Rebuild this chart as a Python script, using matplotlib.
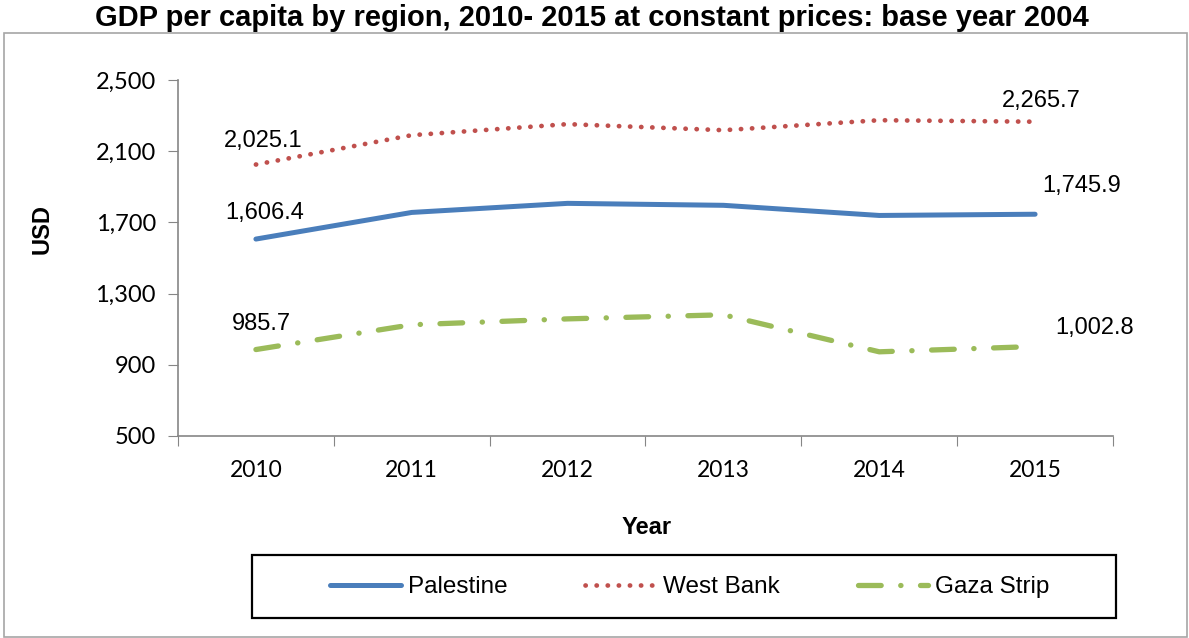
import matplotlib
matplotlib.use('Agg')
import matplotlib.pyplot as plt
from matplotlib.patches import Rectangle

plt.rcParams['font.family'] = ['Liberation Sans', 'DejaVu Sans']

years = ['2010', '2011', '2012', '2013', '2014', '2015']
palestine = [1606.4, 1756, 1807, 1796, 1739, 1745.9]
west_bank = [2025.1, 2190, 2252, 2218, 2274, 2265.7]
gaza = [985.7, 1125, 1158, 1181, 973, 1002.8]

W, H = 1189, 638
fig = plt.figure(figsize=(W / 100, H / 100), dpi=100)

# outer chart border
fig.patches.append(Rectangle((4 / W, 1 - 637 / H), 1183 / W, 604 / H,
                             transform=fig.transFigure, fill=False,
                             edgecolor='#a6a6a6', linewidth=1.2))
# legend box
fig.patches.append(Rectangle((252 / W, 1 - 618 / H), (1116 - 252) / W, 63 / H,
                             transform=fig.transFigure, fill=False,
                             edgecolor='black', linewidth=1.6))

ax = fig.add_axes([178 / W, 1 - 436 / H, (1113 - 178) / W, (436 - 80) / H])
x = list(range(len(years)))

l1, = ax.plot(x, palestine, color='#4a7ebb', linewidth=3.6,
              solid_capstyle='round', solid_joinstyle='round', label='Palestine')
l2, = ax.plot(x, west_bank, color='#c0504d', linewidth=3.4,
              linestyle=(0, (0.05, 2.3)), dash_capstyle='round', label='West Bank')
l3, = ax.plot(x, gaza, color='#9bbb59', linewidth=3.8,
              linestyle=(0, (4.3, 3.7, 0.05, 3.7)), dash_capstyle='round',
              label='Gaza Strip')

ax.set_xlim(-0.5, 5.5)
ax.set_ylim(500, 2500)
ax.set_yticks([500, 900, 1300, 1700, 2100, 2500])
ax.set_yticklabels(['500', '900', '1,300', '1,700', '2,100', '2,500'])
ax.set_xticks([i - 0.5 for i in range(len(years) + 1)])
ax.set_xticklabels([])
ax.set_xticks(x, minor=True)
ax.set_xticklabels(years, minor=True)
ax.tick_params(axis='x', which='minor', length=0, pad=17, labelsize=16.5)
ax.tick_params(axis='x', which='major', length=7, color='#868686', direction='out')
ax.tick_params(axis='y', length=7, color='#868686', direction='out', labelsize=17, pad=9)
for lab in ax.get_xticklabels(minor=True) + ax.get_yticklabels():
    lab.set_family(['Lato', 'DejaVu Sans'])

for s in ['top', 'right']:
    ax.spines[s].set_visible(False)
for s in ['left', 'bottom']:
    ax.spines[s].set_color('#868686')
    ax.spines[s].set_linewidth(1.2)

# data labels at first and last points
def lab(xi, yi, text, dx, dy):
    ax.annotate(text, (xi, yi), xytext=(dx, dy), textcoords='offset pixels',
                ha='center', va='center', fontsize=17)

lab(0, west_bank[0], '2,025.1', 7, 24)
lab(0, palestine[0], '1,606.4', 9, 26)
lab(0, gaza[0], '985.7', 6, 26)
lab(5, west_bank[5], '2,265.7', 6, 21)
lab(5, palestine[5], '1,745.9', 47, 28)
lab(5, gaza[5], '1,002.8', 59, 19)

fig.text(592 / W, 1 - 18 / H, 'GDP per capita by region, 2010- 2015 at constant prices: base year 2004',
         ha='center', va='center', fontsize=21, fontweight='bold')
fig.text(42 / W, 1 - 229 / H, 'USD', rotation=90, ha='center', va='center',
         fontsize=17, fontweight='bold')
fig.text(647 / W, 1 - 528 / H, 'Year', ha='center', va='center',
         fontsize=17, fontweight='bold')

leg = fig.legend(handles=[l1, l2, l3], loc='center',
                 bbox_to_anchor=(690 / W, 1 - 587 / H),
                 ncol=3, frameon=False,
                 fontsize=17.5, handlelength=2.9, handletextpad=0.3,
                 borderaxespad=0, columnspacing=3.2)

fig.savefig('out.png', dpi=100)
